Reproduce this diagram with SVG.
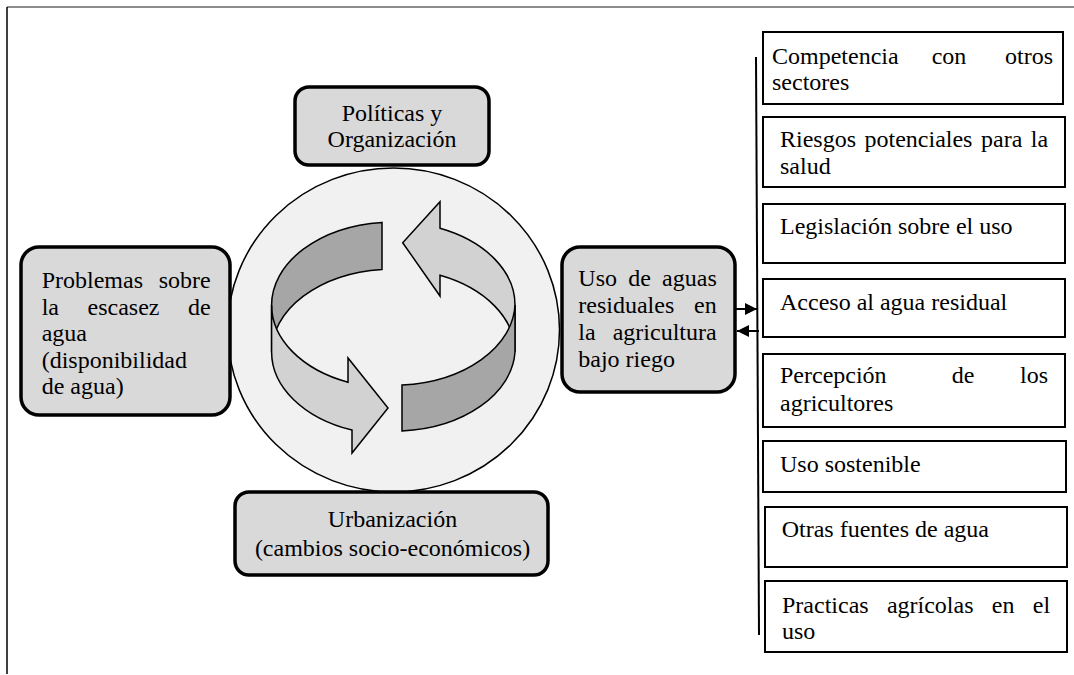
<svg xmlns="http://www.w3.org/2000/svg" width="1074" height="675" viewBox="0 0 1074 675">
<defs>
<style>
text{font-family:"Liberation Serif","Times New Roman",serif;font-size:24px;fill:#000}
.rbox{fill:#d9d9d9;stroke:#000;stroke-width:3.5}
.sbox{fill:#fff;stroke:#000;stroke-width:2}
.dark{fill:#a6a6a6;stroke:#000;stroke-width:1.5;stroke-linejoin:miter}
.light{fill:#d2d2d2;stroke:#000;stroke-width:1.5;stroke-linejoin:miter}
.conn{stroke:#000;stroke-width:2;fill:none}
</style>
<marker id="ah" viewBox="0 0 10 10" refX="10" refY="5" markerWidth="6" markerHeight="6" orient="auto" markerUnits="strokeWidth">
<path d="M0,0 L10,5 L0,10 Z" fill="#000"/>
</marker>
</defs>
<rect width="1074" height="675" fill="#fff"/>
<g id="frame">
<line x1="7" y1="7" x2="1074" y2="7" stroke="#666" stroke-width="1.5"/>
<line x1="7" y1="7" x2="7" y2="674" stroke="#000" stroke-width="1.5"/>
</g>
<g id="cycle">
<ellipse cx="393.5" cy="330" rx="166" ry="162" fill="#f1f1f1" stroke="#000" stroke-width="1.5"/>
<path class="dark" d="M382,222.4 A121.7,83 0 0 0 271.6,305 L271.6,352 A121.7,83 0 0 1 382,269.4 Z"/>
<path class="light" d="M515,305 A121.7,83 0 0 0 440,228.3 L440,201.7 L402.7,242.7 L440,296 L440,275.3 A121.7,83 0 0 1 515,352 Z"/>
<path class="light" d="M271.6,305 A121.7,83 0 0 0 348,382.2 L348,358 L388,408 L352,453 L352,430.1 A121.7,83 0 0 1 271.6,352 Z"/>
<path class="dark" d="M402,385 A121.7,83 0 0 0 515,305 L515,352 A121.7,83 0 0 1 402,431 Z"/>
</g>
<g id="politicas">
<rect class="rbox" x="295" y="87" width="194" height="78" rx="14"/>
<text x="392" y="121" text-anchor="middle">Políticas y</text>
<text x="392" y="147" text-anchor="middle">Organización</text>
</g>
<g id="urbanizacion">
<rect class="rbox" x="235" y="492" width="313" height="83" rx="14"/>
<text x="392.5" y="527" text-anchor="middle">Urbanización</text>
<text x="392.5" y="556" text-anchor="middle">(cambios socio-económicos)</text>
</g>
<g id="problemas">
<rect class="rbox" x="21" y="247" width="209" height="168" rx="18"/>
<text y="288"><tspan x="41.7">Problemas</tspan><tspan x="158.7">sobre</tspan></text>
<text y="314.5"><tspan x="41.7">la</tspan><tspan x="87.5">escasez</tspan><tspan x="188">de</tspan></text>
<text x="41.7" y="341">agua</text>
<text x="41.7" y="367.5">(disponibilidad</text>
<text x="41.7" y="394">de agua)</text>
</g>
<g id="uso">
<rect class="rbox" x="562" y="247" width="173" height="145" rx="18"/>
<text y="286"><tspan x="578.3">Uso</tspan><tspan x="628.2">de</tspan><tspan x="662.1">aguas</tspan></text>
<text y="313"><tspan x="578.3">residuales</tspan><tspan x="694">en</tspan></text>
<text y="340"><tspan x="578.3">la</tspan><tspan x="612.7">agricultura</tspan></text>
<text x="578.3" y="367">bajo riego</text>
</g>
<g id="connectors">
<line class="conn" x1="756" y1="57" x2="759" y2="635"/>
<line class="conn" x1="735" y1="309" x2="757" y2="309" marker-end="url(#ah)"/>
<line class="conn" x1="759" y1="331" x2="737" y2="331" marker-end="url(#ah)"/>
</g>
<g id="competencia">
<rect class="sbox" x="763" y="32" width="300" height="72"/>
<text y="63.5"><tspan x="772">Competencia</tspan><tspan x="931.7">con</tspan><tspan x="1005">otros</tspan></text>
<text x="772" y="89.5">sectores</text>
</g>
<g id="riesgos">
<rect class="sbox" x="763" y="117" width="302" height="70"/>
<text y="147"><tspan x="780">Riesgos</tspan><tspan x="864.5">potenciales</tspan><tspan x="981">para</tspan><tspan x="1030.8">la</tspan></text>
<text x="780" y="174">salud</text>
</g>
<g id="legislacion">
<rect class="sbox" x="763" y="204" width="302" height="59"/>
<text x="780" y="234">Legislación sobre el uso</text>
</g>
<g id="acceso">
<rect class="sbox" x="763" y="279" width="302" height="58"/>
<text x="780" y="310">Acceso al agua residual</text>
</g>
<g id="percepcion">
<rect class="sbox" x="763" y="354" width="302" height="73"/>
<text y="383"><tspan x="780">Percepción</tspan><tspan x="951.7">de</tspan><tspan x="1020">los</tspan></text>
<text x="780" y="410.5">agricultores</text>
</g>
<g id="sostenible">
<rect class="sbox" x="763" y="441" width="303" height="51"/>
<text x="780" y="471.5">Uso sostenible</text>
</g>
<g id="otras">
<rect class="sbox" x="765" y="507" width="302" height="60"/>
<text x="781.7" y="537">Otras fuentes de agua</text>
</g>
<g id="practicas">
<rect class="sbox" x="765" y="581" width="302" height="71"/>
<text y="612.7"><tspan x="782">Practicas</tspan><tspan x="886.9">agrícolas</tspan><tspan x="991.8">en</tspan><tspan x="1032.8">el</tspan></text>
<text x="782" y="639.3">uso</text>
</g>
</svg>
